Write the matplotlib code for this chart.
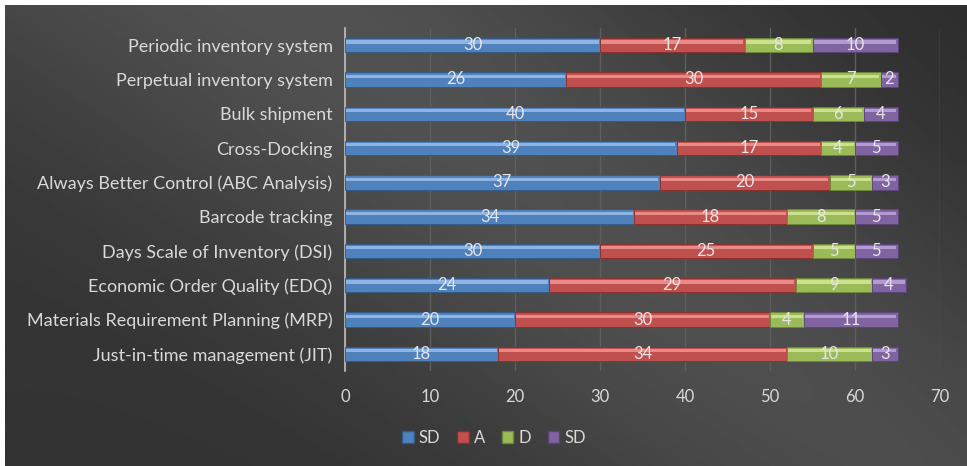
import numpy as np
import matplotlib
matplotlib.use("Agg")
import matplotlib.pyplot as plt
from matplotlib.patches import Patch

plt.rcParams['font.family'] = ['Lato', 'DejaVu Sans']

categories = ["Periodic inventory system", "Perpetual inventory system", "Bulk shipment",
              "Cross-Docking", "Always Better Control (ABC Analysis)", "Barcode tracking",
              "Days Scale of Inventory (DSI)", "Economic Order Quality (EDQ)",
              "Materials Requirement Planning (MRP)", "Just-in-time management (JIT)"]
sd1 = [30, 26, 40, 39, 37, 34, 30, 24, 20, 18]
agree = [17, 30, 15, 17, 20, 18, 25, 29, 30, 34]
disagree = [8, 7, 6, 4, 5, 8, 5, 9, 4, 10]
sd2 = [10, 2, 4, 5, 3, 5, 5, 4, 11, 3]
series_names = ["SD", "A", "D", "SD"]
xticks = [0, 10, 20, 30, 40, 50, 60, 70]

colors = ["#4f81bd", "#c0504d", "#9bbb59", "#8064a2"]
lights = ["#8fb4e3", "#e88a88", "#cde08e", "#b39ad0"]
darks = ["#2f5a8c", "#8c2d2a", "#6d8a37", "#5a437a"]
txt = "#d9d9d9"

fig = plt.figure(figsize=(9.67, 4.66), dpi=100)
fig.patch.set_facecolor("white")

# dark gradient background (leaves thin white border top and left)
bg = fig.add_axes([5 / 967, 0, 962 / 967, 461 / 466])
bg.set_axis_off()
yy, xx = np.mgrid[0:1:200j, 0:1:400j]
d = (xx * 0.8 + (1 - yy) * 0.5)
shade = 0.20 + 0.13 * np.exp(-((d - 0.75) ** 2) / 0.12) - 0.03 * xx
bg.imshow(shade, cmap="gray", vmin=0, vmax=1, aspect="auto", origin="upper",
          extent=[0, 1, 0, 1])
bg.set_xlim(0, 1)
bg.set_ylim(0, 1)

ax = fig.add_axes([345 / 967, 1 - 371 / 466, 595 / 967, 343 / 466])
ax.set_facecolor("none")

data = [sd1, agree, disagree, sd2]
y = np.arange(len(categories))[::-1]
h = 0.42
left = np.zeros(len(categories))
for vals, c, lc, dc in zip(data, colors, lights, darks):
    vals = np.array(vals)
    ax.barh(y, vals, left=left, height=h, color=c, edgecolor=dc, linewidth=0.6, zorder=3)
    ax.barh(y + h * 0.22, vals - 0.3, left=left + 0.15, height=h * 0.22, color=lc,
            linewidth=0, zorder=4)
    for yi, l, v in zip(y, left, vals):
        ax.text(l + v / 2, yi, str(v), ha="center", va="center", color="#e6e6e6",
                fontsize=12, zorder=5)
    left += vals

ax.set_xlim(0, 70)
ax.set_ylim(-0.5, len(categories) - 0.5)
ax.set_xticks(xticks)
ax.set_xticklabels([str(t) for t in xticks], color=txt, fontsize=12)
ax.set_yticks(y)
ax.set_yticklabels(categories, color=txt, fontsize=13)
ax.tick_params(axis="both", length=0)
ax.tick_params(axis="x", pad=13)
ax.tick_params(axis="y", pad=9)
ax.grid(axis="x", color="#5e5e5e", linewidth=1, zorder=0)
for s in ["top", "right", "bottom"]:
    ax.spines[s].set_visible(False)
ax.spines["left"].set_color("#bfbfbf")
ax.spines["left"].set_linewidth(1.2)

handles = [Patch(facecolor=c, edgecolor=dc) for c, dc in zip(colors, darks)]
leg = fig.legend(handles, series_names, loc="center", bbox_to_anchor=(494 / 967, 1 - 438 / 466),
                 ncol=4, frameon=False, fontsize=12, handlelength=0.7, handleheight=0.7,
                 handletextpad=0.3, columnspacing=1.0)
for t in leg.get_texts():
    t.set_color(txt)

fig.savefig("out.png", dpi=100)
